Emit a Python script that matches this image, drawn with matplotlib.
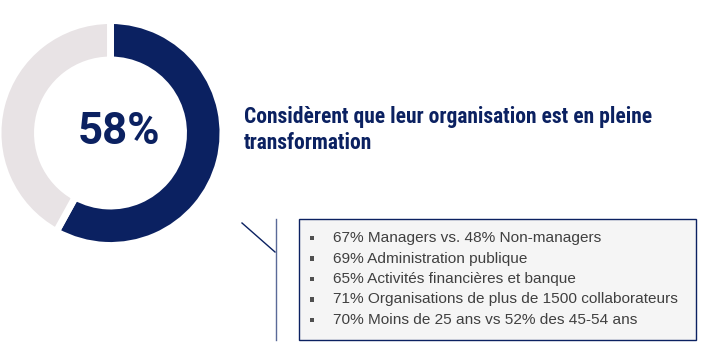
import matplotlib
matplotlib.use("Agg")
import matplotlib.pyplot as plt
from matplotlib.patches import Rectangle

# Data
share_labels = ["Considèrent", "Autres"]
share_values = [58, 42]
headline = "58%"
title_text = "Considèrent que leur organisation est en pleine\ntransformation"
details = [
    "67% Managers vs. 48% Non-managers",
    "69% Administration publique",
    "65% Activités financières et banque",
    "71% Organisations de plus de 1500 collaborateurs",
    "70% Moins de 25 ans vs 52% des 45-54 ans",
]

NAVY = "#0b2161"
RING_GREY = "#e8e3e5"
TEXT_GREY = "#404040"
COND = ["Roboto Condensed", "DejaVu Sans"]

W, H = 704, 363
fig = plt.figure(figsize=(W / 100, H / 100), dpi=100)

# Overlay axes in pixel coordinates
ax = fig.add_axes([0, 0, 1, 1])
ax.set_xlim(0, W)
ax.set_ylim(H, 0)
ax.axis("off")

# Donut
cx, cy, r = 110.5, 133, 112.5
dax = fig.add_axes([(cx - r) / W, (H - cy - r) / H, 2 * r / W, 2 * r / H])
dax.pie(share_values, colors=[NAVY, RING_GREY], startangle=90, counterclock=False,
        radius=1.0, wedgeprops=dict(width=39.5 / 112.5, edgecolor="white", linewidth=5))
dax.set_xlim(-1.0, 1.0)
dax.set_ylim(-1.0, 1.0)
dax.axis("off")

ax.text(118.7, 132.5, headline, ha="center", va="center", fontsize=31.5, fontweight="bold",
        color=NAVY, family=["Roboto", "DejaVu Sans"])

# Title
ax.text(244, 130, title_text, ha="left", va="center", fontsize=15.5, fontweight="bold",
        color=NAVY, family=COND, linespacing=1.18)

# Connector lines
ax.plot([242, 275], [223, 252], color=NAVY, lw=1.0)
ax.plot([275.5, 275.5], [219, 340], color="#5a6a98", lw=1.0)

# Box
ax.add_patch(Rectangle((299, 219), 397, 121, facecolor="#f5f5f5", edgecolor=NAVY, lw=1.0))

y0, dy = 238, 20.5
for i, line in enumerate(details):
    y = y0 + i * dy
    ax.add_patch(Rectangle((309.5, y - 2.5), 4.5, 4.5, facecolor="#505050", edgecolor="none"))
    ax.text(333, y, line, ha="left", va="center", fontsize=11.05, color=TEXT_GREY,
            family=["Liberation Sans", "DejaVu Sans"])

fig.savefig("out.png", dpi=100)
